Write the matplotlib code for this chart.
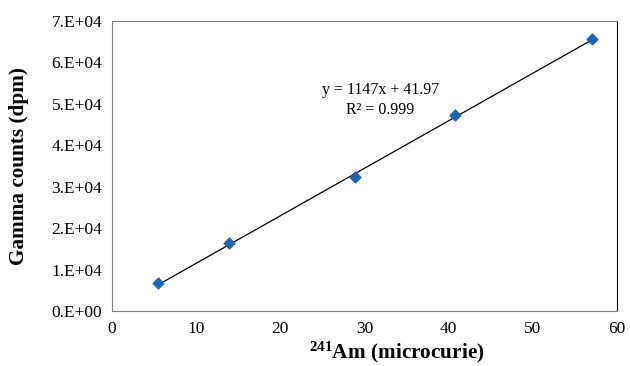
import numpy as np
import matplotlib.pyplot as plt

# 241Am activity (microcurie) vs gamma counts (dpm)
activity = [5.5, 13.9, 28.9, 40.8, 57.0]
counts = [6700, 16500, 32300, 47300, 65700]
slope = 1147
intercept = 41.97
r2 = 0.999
y_ticks = [0, 1e4, 2e4, 3e4, 4e4, 5e4, 6e4, 7e4]
y_tick_labels = ['0.E+00', '1.E+04', '2.E+04', '3.E+04', '4.E+04', '5.E+04', '6.E+04', '7.E+04']
x_ticks = [0, 10, 20, 30, 40, 50, 60]

plt.rcParams['font.family'] = ['Liberation Serif', 'DejaVu Serif']
plt.rcParams['mathtext.fontset'] = 'custom'
plt.rcParams['mathtext.rm'] = 'Liberation Serif'
plt.rcParams['mathtext.bf'] = 'Liberation Serif:bold'

fig = plt.figure(figsize=(6.3, 3.66), dpi=100)
ax = fig.add_axes([112/630, 1-311/366, 505/630, 290/366])

xfit = np.array([activity[0], activity[-1]])
ax.plot(xfit, slope*xfit + intercept, color='black', lw=0.9, zorder=2)
ax.scatter(activity, counts, marker='D', s=30, color='#1f64b4', zorder=3)

ax.set_xlim(0, 60)
ax.set_ylim(0, 7e4)
ax.set_xticks(x_ticks)
ax.set_yticks(y_ticks)
ax.set_yticklabels(y_tick_labels)
ax.tick_params(length=0, labelsize=12.5, pad=7)
for s in ['left', 'bottom', 'top']:
    ax.spines[s].set_color('#808080')
ax.spines['right'].set_color('black')

ax.text(31.9, 5.1e4, f'y = {slope}x + {intercept}\nR² = {r2}', ha='center', va='center',
        fontsize=11.5, linespacing=1.3)

ax.set_xlabel(r'$\mathbf{^{241}}$Am (microcurie)', fontsize=15.3, fontweight='bold')
ax.xaxis.set_label_coords(0.564, -0.1)
ax.set_ylabel('Gamma counts (dpm)', fontsize=15.3, fontweight='bold')
ax.yaxis.set_label_coords(-0.165, 0.5)

plt.savefig('out.png', dpi=100)
